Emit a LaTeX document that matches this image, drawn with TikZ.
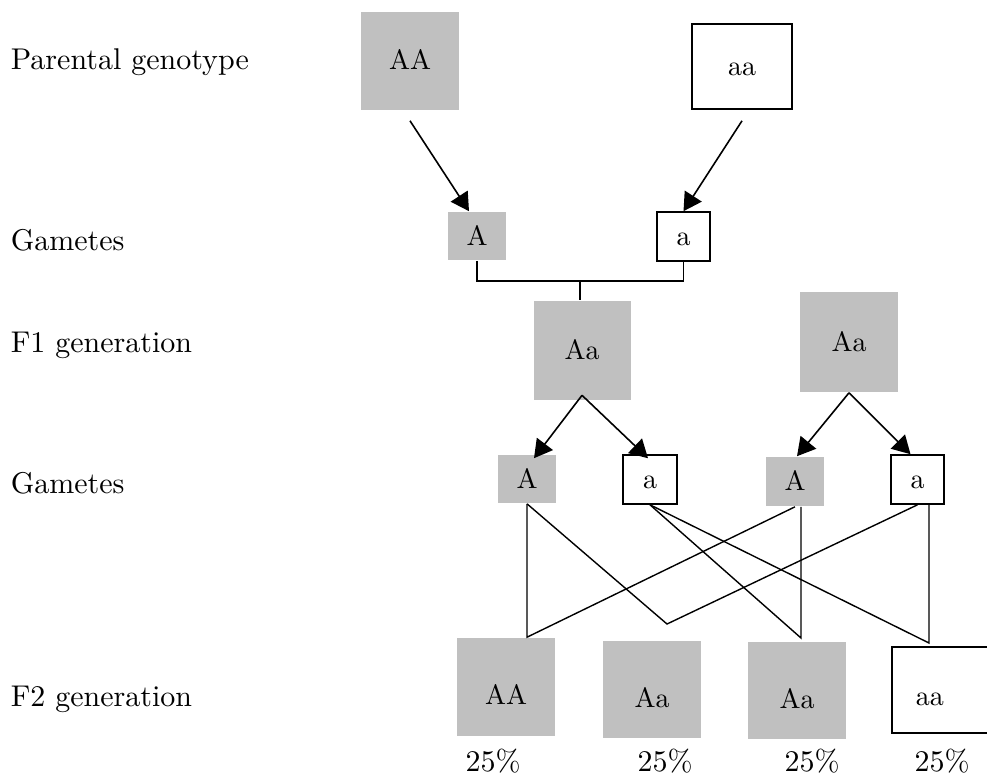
\documentclass[tikz,border=0pt]{standalone}
\usepackage{fontspec}
\setmainfont{lmroman10-regular.otf}
\usetikzlibrary{arrows.meta,calc}
\definecolor{allelegray}{RGB}{192,192,192}

\begin{document}
\begin{tikzpicture}[x=1pt,y=-1pt,>={Triangle[length=18pt,width=20pt]},
   line width=1.6pt,
   every node/.style={inner sep=0pt,font=\fontsize{28}{33}\selectfont},
   rowlabel/.style={anchor=base west,font=\fontsize{30}{36}\selectfont},
   share/.style={anchor=base,font=\fontsize{30}{36}\selectfont},
   domi/.style={fill=allelegray,text height=18pt,text depth=0pt},
   reces/.style={draw,fill=white,text height=18pt,text depth=0pt}]
  \useasboundingbox (0,0) rectangle (987,778);
  % row labels
  \node (lpar) [rowlabel] at (10,70) {Parental genotype};
  \node (lgam1) [rowlabel] at (10,250) {Gametes};
  \node (lf1) [rowlabel] at (10,352) {F1 generation};
  \node (lgam2) [rowlabel] at (10,493) {Gametes};
  \node (lf2) [rowlabel] at (10,706) {F2 generation};
  % parents and their gametes
  \node (pAA) [domi,minimum width=98pt,minimum height=98pt] at (410,61) {AA};
  \node (paa) [reces,minimum width=100pt,minimum height=85pt] at (742,66.5) {aa};
  \node (g1A) [domi,minimum width=58pt,minimum height=48pt] at (477,236) {A};
  \node (g1a) [reces,minimum width=53pt,minimum height=49pt] at (683.5,236.5) {a};
  \draw[->] ([yshift=-10pt]pAA.south) -- ([xshift=-8pt]g1A.north);
  \draw[->] ([yshift=-11pt]paa.south) -- (g1a.north);
  % F1
  \node (f1L) [domi,minimum width=97pt,minimum height=99pt] at (582,350) {Aa};
  \node (f1R) [domi,minimum width=98pt,minimum height=100pt] at (849,342) {Aa};
  \draw (g1A.south) -- ++(0,20) -| (g1a.south);
  \coordinate (join) at ($(g1A.south)!.5!(g1a.south)+(0,20)$);
  \draw (join) -- (join |- f1L.north);
  % gametes of the F1
  \node (g2A1) [domi,minimum width=58pt,minimum height=48pt] at (527,479) {A};
  \node (g2a1) [reces,minimum width=54pt,minimum height=49pt] at (650,479.5) {a};
  \node (g2A2) [domi,minimum width=58pt,minimum height=49pt] at (795,481.5) {A};
  \node (g2a2) [reces,minimum width=53pt,minimum height=49pt] at (917.5,479.5) {a};
  \draw[->] ([yshift=5pt]f1L.south) -- ([xshift=7pt,yshift=-4pt]g2A1.north);
  \draw[->] ([yshift=5pt]f1L.south) -- ([xshift=-2pt,yshift=-4pt]g2a1.north);
  \draw[->] (f1R.south) -- ([xshift=2pt]g2A2.north);
  \draw[->] (f1R.south) -- ([xshift=-7pt]g2a2.north);
  % F2
  \node (f2AA) [domi,text height=35pt,minimum width=98pt,minimum height=98pt] at (506,687) {AA};
  \node (f2Aa1) [domi,text height=35pt,minimum width=98pt,minimum height=97pt] at (652,689.5) {Aa};
  \node (f2Aa2) [domi,text height=35pt,minimum width=98pt,minimum height=97pt] at (797,690.5) {Aa};
  \node (f2aa) [reces,text height=30pt,minimum height=86pt,anchor=west,
     inner xsep=24pt,text width=50pt,align=left] at (891,690) {aa};
  % meeting points above the F2 boxes
  \coordinate (mAA) at (g2A1.south |- f2AA.north);
  \coordinate (mAa1) at (667,624);
  \coordinate (mAa2) at (801,638);
  \coordinate (maa) at (929,643);
  \begin{scope}[line width=1.4pt]
    \draw (g2A1.south) -- (mAA) -- (g2A2.south);
    \draw (g2A1.south) -- (mAa1) -- (g2a2.south);
    \draw (g2a1.south) -- (mAa2) -- (mAa2 |- g2A2.south);
    \draw (g2a1.south) -- (maa) -- (maa |- g2a2.south);
  \end{scope}
  \node (pc1) [share] at (493,771) {25\%};
  \node (pc2) [share] at (665,771) {25\%};
  \node (pc3) [share] at (812,771) {25\%};
  \node (pc4) [share] at (942,771) {25\%};
\end{tikzpicture}
\end{document}
